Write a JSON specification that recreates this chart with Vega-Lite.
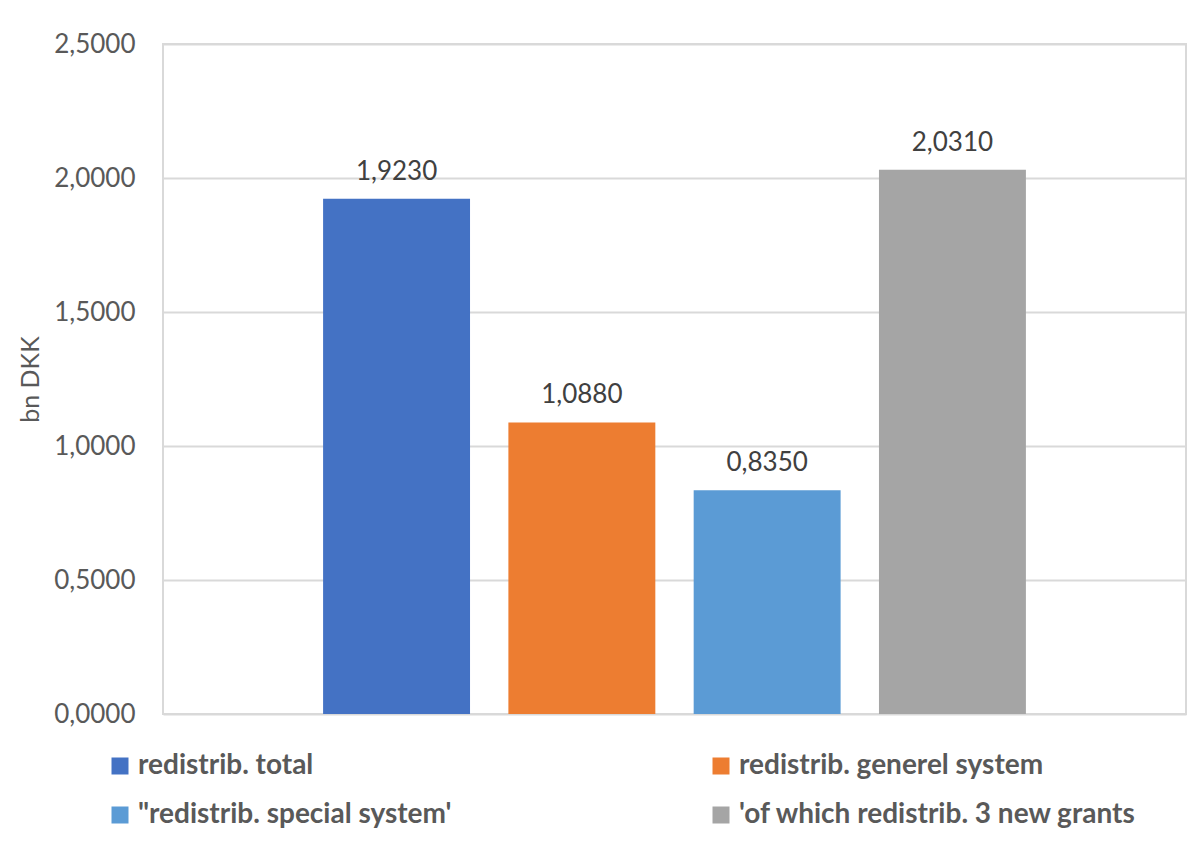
{
  "$schema": "https://vega.github.io/schema/vega-lite/v6.json",
  "autosize": {"type": "none"},
  "padding": {"left": 163, "top": 44, "right": 16, "bottom": 135},
  "width": 1023,
  "height": 670,
  "background": "white",
  "config": {
    "locale": {"number": {"decimal": ",", "thousands": ".", "grouping": [3], "currency": ["", " kr."]}},
    "font": "Lato",
    "view": {"stroke": "#d9d9d9", "strokeWidth": 2}
  },
  "data": {
    "values": [
      {"series": "redistrib. total", "value": 1.923},
      {"series": "redistrib. generel system", "value": 1.088},
      {"series": "\"redistrib. special system'", "value": 0.835},
      {"series": "'of which redistrib. 3 new grants", "value": 2.031}
    ]
  },
  "encoding": {
    "x": {
      "field": "series",
      "type": "nominal",
      "sort": null,
      "scale": {"paddingInner": 0.207, "paddingOuter": 0.864},
      "axis": null
    },
    "y": {
      "field": "value",
      "type": "quantitative",
      "scale": {"domain": [0, 2.5], "nice": false},
      "axis": {
        "title": "bn DKK",
        "titleFont": "Lato",
        "titleFontSize": 25,
        "titleFontWeight": "normal",
        "titleColor": "#595959",
        "titlePadding": 10,
        "values": [0, 0.5, 1, 1.5, 2, 2.5],
        "format": ".4f",
        "labelFont": "Lato",
        "labelFontSize": 26,
        "labelColor": "#595959",
        "labelPadding": 28,
        "ticks": false,
        "domain": false,
        "grid": true,
        "gridColor": "#d9d9d9",
        "gridWidth": 2
      }
    }
  },
  "layer": [
    {
      "mark": {"type": "bar"},
      "encoding": {
        "color": {
          "field": "series",
          "type": "nominal",
          "sort": null,
          "scale": {
            "domain": ["redistrib. total", "redistrib. generel system", "\"redistrib. special system'", "'of which redistrib. 3 new grants"],
            "range": ["#4472C4", "#ED7D31", "#5B9BD5", "#A5A5A5"]
          },
          "legend": {
            "title": null,
            "orient": "none",
            "direction": "horizontal",
            "legendX": -57,
            "legendY": 708,
            "columns": 2,
            "columnPadding": 255,
            "rowPadding": 21,
            "padding": 0,
            "symbolType": "square",
            "symbolSize": 289,
            "symbolStrokeWidth": 0,
            "labelOffset": 4,
            "labelFont": "Lato",
            "labelFontSize": 28,
            "labelFontWeight": "bold",
            "labelColor": "#595959",
            "labelLimit": 600
          }
        }
      }
    },
    {
      "mark": {"type": "text", "baseline": "alphabetic", "dy": -19, "font": "Lato", "fontSize": 26, "color": "#404040"},
      "encoding": {
        "text": {"field": "value", "type": "quantitative", "format": ".4f"}
      }
    }
  ]
}
